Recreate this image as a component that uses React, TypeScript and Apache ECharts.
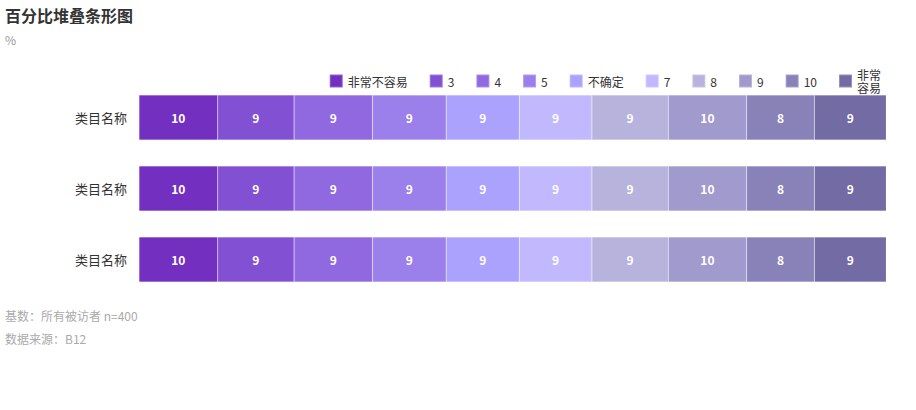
import React, { useEffect, useRef } from "react";
import * as echarts from "echarts";

const categories = ["类目名称", "类目名称", "类目名称"];
const seriesNames = ["非常不容易", "3", "4", "5", "不确定", "7", "8", "9", "10", "非常容易"];
// bar lengths (percent)
const shares = [10.54, 10.22, 10.49, 9.87, 9.78, 9.73, 10.22, 10.49, 9.06, 9.69];
// labels shown inside the bars
const labels = [10, 9, 9, 9, 9, 9, 9, 10, 8, 9];
const colors = [
  "#732FC0",
  "#8150D3",
  "#9069E0",
  "#9B80EB",
  "#ABA2FE",
  "#C1B8FE",
  "#B8B3DC",
  "#A19ACD",
  "#8982B8",
  "#736BA3",
];
const titleText = "百分比堆叠条形图";
const subText = "%";
const footnotes = ["基数：所有被访者 n=400", "数据来源：B12"];

export default function App() {
  const ref = useRef<HTMLDivElement>(null);
  useEffect(() => {
    if (!ref.current) return;
    const chart = echarts.init(ref.current, undefined, { renderer: "svg" });
    const font = "'Noto Sans CJK SC', 'Noto Sans', sans-serif";
    chart.setOption({
      animation: false,
      textStyle: { fontFamily: font },
      title: {
        text: titleText,
        subtext: subText,
        left: 0,
        top: 2,
        textStyle: { fontSize: 16, fontWeight: "bold", color: "#333", fontFamily: font },
        subtextStyle: { fontSize: 12, color: "#999", fontFamily: font },
        itemGap: 10,
      },
      legend: {
        right: 30,
        top: 63,
        itemWidth: 13,
        itemHeight: 13,
        itemGap: 21,
        icon: "rect",
        textStyle: { fontSize: 12, color: "#333", fontFamily: font, lineHeight: 13 },
        formatter: (name: string) => (name === "非常容易" ? "非常\n容易" : name),
        data: seriesNames,
      },
      grid: { left: 139, right: 30, top: 82, bottom: 115 },
      xAxis: { type: "value", min: 0, max: 100, show: false },
      yAxis: {
        type: "category",
        data: categories,
        inverse: true,
        axisLine: { show: false },
        axisTick: { show: false },
        axisLabel: { fontSize: 13, color: "#333", margin: 12, fontFamily: font },
      },
      series: seriesNames.map((name, i) => ({
        name,
        type: "bar",
        stack: "total",
        barWidth: 45,
        data: categories.map(() => shares[i]),
        itemStyle: { color: colors[i], borderColor: "rgba(255,255,255,0.25)", borderWidth: 0.5 },
        label: {
          show: true,
          position: "inside",
          color: "#fff",
          fontSize: 12,
          fontWeight: 600,
          fontFamily: font,
          formatter: () => String(labels[i]),
        },
      })),
      graphic: footnotes.map((t, i) => ({
        type: "text",
        left: 5,
        top: 309 + i * 23,
        style: { text: t, fontSize: 12, fill: "#aaa", fontFamily: font },
      })),
    });
    return () => chart.dispose();
  }, []);
  return (
    <div
      ref={ref}
      style={{ position: "absolute", left: 0, top: 0, width: 916, height: 410 }}
    />
  );
}
